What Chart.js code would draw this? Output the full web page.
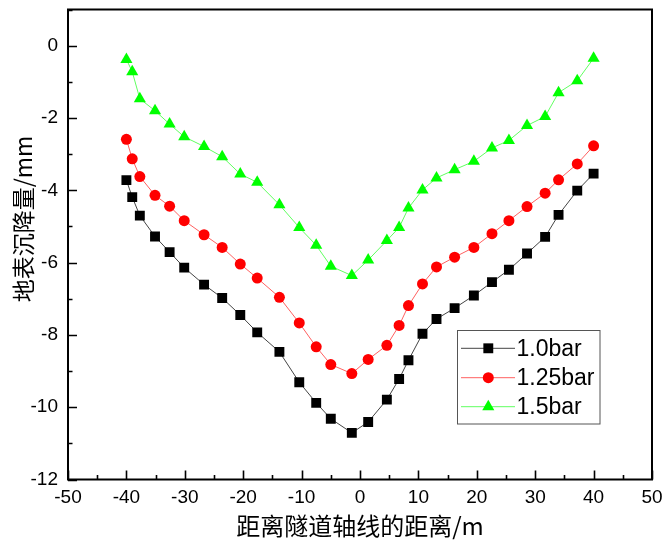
<!DOCTYPE html>
<html>
<head>
<meta charset="utf-8">
<script src="https://cdn.jsdelivr.net/npm/chart.js@4.4.0/dist/chart.umd.min.js"></script>
<style>
  html, body { margin: 0; padding: 0; background: #fff; }
  #wrap { width: 663px; height: 540px; position: relative; }
</style>
</head>
<body>
<div id="wrap"><canvas id="c" width="663" height="540"></canvas></div>
<script>
// ---- data ----
const xDistance = [-40, -39, -37.7, -35.1, -32.6, -30.1, -26.7, -23.6, -20.5, -17.6, -13.8, -10.4, -7.5, -5.0, -1.4, 1.4, 4.6, 6.7, 8.3, 10.7, 13.1, 16.2, 19.5, 22.6, 25.5, 28.6, 31.7, 34.0, 37.2, 40];
const settle10 = [-3.72, -4.19, -4.70, -5.28, -5.71, -6.14, -6.61, -6.98, -7.45, -7.93, -8.47, -9.31, -9.88, -10.32, -10.71, -10.41, -9.79, -9.22, -8.70, -7.97, -7.56, -7.26, -6.91, -6.54, -6.20, -5.75, -5.29, -4.68, -4.01, -3.54];
const settle125 = [-2.59, -3.13, -3.62, -4.14, -4.44, -4.84, -5.23, -5.58, -6.04, -6.43, -6.96, -7.67, -8.33, -8.82, -9.07, -8.68, -8.29, -7.74, -7.19, -6.59, -6.12, -5.85, -5.58, -5.20, -4.84, -4.45, -4.08, -3.71, -3.27, -2.77];
const settle15 = [-0.38, -0.72, -1.47, -1.80, -2.17, -2.52, -2.79, -3.07, -3.55, -3.78, -4.40, -5.03, -5.52, -6.10, -6.36, -5.93, -5.39, -5.03, -4.49, -3.99, -3.66, -3.43, -3.20, -2.83, -2.62, -2.21, -1.96, -1.30, -0.97, -0.35];
const seriesNames = ['1.0bar', '1.25bar', '1.5bar'];
const xTitle = '距离隧道轴线的距离/m';
const yTitle = '地表沉降量/mm';

const toPts = (ys) => xDistance.map((x, i) => ({ x: x, y: ys[i] }));

const TICK_FONT = { family: '"Liberation Sans", Arial, sans-serif', size: 19 };

const framePlugin = {
  id: 'frameTicks',
  afterDraw(chart) {
    const ctx = chart.ctx;
    const a = chart.chartArea;
    const xs = chart.scales.x, ys = chart.scales.y;
    ctx.save();
    ctx.strokeStyle = '#000';
    ctx.lineWidth = 1.6;
    // inward major + minor ticks
    ctx.beginPath();
    xs.ticks.forEach((t, i) => {
      const px = Math.round(xs.getPixelForValue(t.value)) + 0.5;
      ctx.moveTo(px, a.bottom); ctx.lineTo(px, a.bottom - 9);
      if (i < xs.ticks.length - 1) {
        const mv = (t.value + xs.ticks[i + 1].value) / 2;
        const mx = Math.round(xs.getPixelForValue(mv)) + 0.5;
        ctx.moveTo(mx, a.bottom); ctx.lineTo(mx, a.bottom - 4.5);
      }
    });
    ys.ticks.forEach((t, i) => {
      const py = Math.round(ys.getPixelForValue(t.value)) + 0.5;
      ctx.moveTo(a.left, py); ctx.lineTo(a.left + 9, py);
      const mv = t.value + 1;
      if (mv <= ys.max) {
        const my = Math.round(ys.getPixelForValue(mv)) + 0.5;
        ctx.moveTo(a.left, my); ctx.lineTo(a.left + 4.5, my);
      }
    });
    ctx.stroke();
    // frame
    ctx.lineWidth = 2;
    ctx.strokeRect(a.left, a.top, a.right - a.left, a.bottom - a.top);

    // axis titles
    ctx.fillStyle = '#000';
    ctx.textAlign = 'center';
    ctx.textBaseline = 'middle';
    ctx.font = '24px "Noto Sans CJK SC", "Liberation Sans", sans-serif';
    ctx.fillText(xTitle, (a.left + a.right) / 2, 526);
    ctx.font = '23px "Noto Sans CJK SC", "Liberation Sans", sans-serif';
    ctx.save();
    ctx.translate(23, 219);
    ctx.rotate(-Math.PI / 2);
    ctx.fillText(yTitle, 0, 0);
    ctx.restore();

    // legend
    const lx = 457.5, ly = 330.5, lw = 142.5, lh = 93.5;
    ctx.lineWidth = 1;
    ctx.strokeStyle = '#555';
    ctx.strokeRect(lx, ly, lw, lh);
    const rows = [348.3, 377.7, 406.7];
    chart.data.datasets.forEach((ds, i) => {
      const ry = rows[i];
      ctx.strokeStyle = ds.borderColor;
      ctx.lineWidth = 1;
      ctx.beginPath();
      ctx.moveTo(461, ry); ctx.lineTo(515, ry);
      ctx.stroke();
      ctx.fillStyle = ds.pointBackgroundColor;
      ctx.strokeStyle = ds.pointBorderColor;
      ctx.lineWidth = ds.pointBorderWidth;
      Chart.helpers.drawPoint(ctx, { pointStyle: ds.pointStyle, radius: ds.pointRadius, rotation: 0, borderWidth: ds.pointBorderWidth }, 488.3, ry);
      ctx.fillStyle = '#000';
      ctx.font = '23px "Liberation Sans", Arial, sans-serif';
      ctx.textAlign = 'left';
      ctx.textBaseline = 'middle';
      ctx.fillText(ds.label, 516.5, ry + 1);
    });
    ctx.restore();
  }
};

new Chart(document.getElementById('c'), {
  type: 'line',
  data: {
    datasets: [
      { label: seriesNames[0], data: toPts(settle10), borderColor: '#444', borderWidth: 1,
        pointStyle: 'rect', pointRadius: 7, pointBackgroundColor: '#000', pointBorderColor: '#000', pointBorderWidth: 0, tension: 0 },
      { label: seriesNames[1], data: toPts(settle125), borderColor: '#ff6060', borderWidth: 1,
        pointStyle: 'circle', pointRadius: 5.5, pointBackgroundColor: '#ff0000', pointBorderColor: '#ff0000', pointBorderWidth: 0, tension: 0 },
      { label: seriesNames[2], data: toPts(settle15), borderColor: '#60ff60', borderWidth: 1,
        pointStyle: 'triangle', pointRadius: 7, pointBackgroundColor: '#00ff00', pointBorderColor: '#00ff00', pointBorderWidth: 0, tension: 0 }
    ]
  },
  options: {
    responsive: false,
    animation: false,
    devicePixelRatio: 1,
    layout: { padding: { left: 0, top: 9.5, right: 11, bottom: 0 } },
    plugins: { legend: { display: false }, tooltip: { enabled: false } },
    scales: {
      x: {
        type: 'linear', min: -50, max: 50,
        ticks: { stepSize: 10, color: '#000', font: TICK_FONT, padding: 7, maxRotation: 0 },
        grid: { display: false, drawTicks: false },
        border: { display: false },
        afterFit: (s) => { s.height = 540 - 479.5; s.paddingLeft = 0; s.paddingRight = 0; }
      },
      y: {
        type: 'linear', min: -12, max: 1,
        ticks: { stepSize: 2, color: '#000', font: TICK_FONT, padding: 10 },
        afterBuildTicks: (s) => { s.ticks = s.ticks.filter(t => t.value <= 0); },
        grid: { display: false, drawTicks: false },
        border: { display: false },
        afterFit: (s) => { s.width = 68; s.paddingTop = 0; s.paddingBottom = 0; }
      }
    }
  },
  plugins: [framePlugin]
});
</script>
</body>
</html>
